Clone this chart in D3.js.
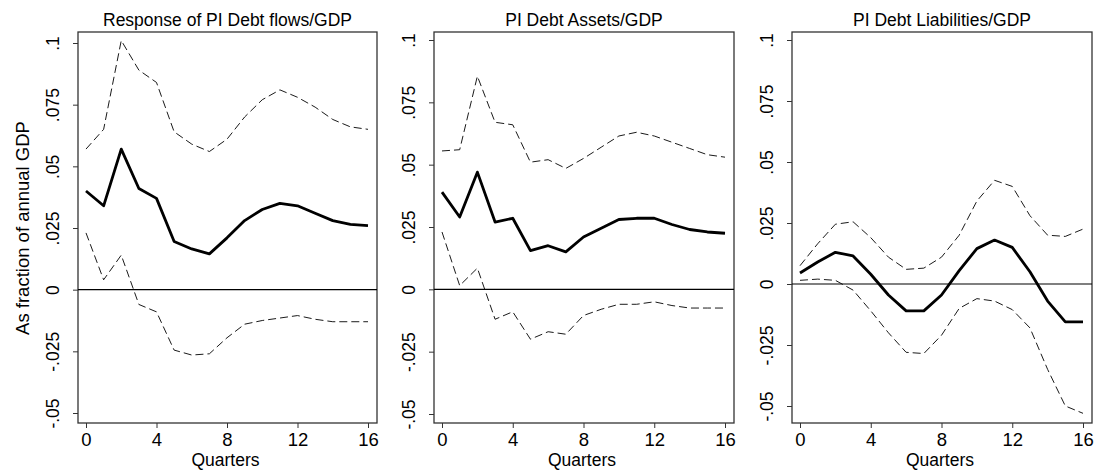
<!DOCTYPE html>
<html><head><meta charset="utf-8">
<script src="https://cdn.jsdelivr.net/npm/d3@7"></script>
<style>body{margin:0;background:#fff}text{font-family:Arial,"Liberation Sans",sans-serif;fill:#000}</style>
</head><body>
<svg id="c" width="1094" height="470"></svg>
<script>
var quarters = d3.range(0, 17);
var titles = ["Response of PI Debt flows/GDP", "PI Debt Assets/GDP", "PI Debt Liabilities/GDP"];
var yTicks = [-0.05, -0.025, 0, 0.025, 0.05, 0.075, 0.1];
var yTickLabels = ["-.05", "-.025", "0", ".025", ".05", ".075", ".1"];
var xTicks = [0, 4, 8, 12, 16];

var flowsMid = [.04,.034,.057,.041,.037,.0195,.0165,.0145,.021,.028,.0325,.035,.034,.031,.028,.0265,.026];
var flowsUp = [.057,.065,.101,.089,.084,.064,.059,.056,.061,.070,.077,.081,.078,.074,.069,.066,.065];
var flowsLo = [.023,.004,.014,-.006,-.009,-.0245,-.0265,-.026,-.0195,-.014,-.0125,-.0115,-.0105,-.012,-.013,-.013,-.013];

var assetsMid = [.039,.029,.047,.027,.0285,.0155,.0175,.015,.021,.0245,.028,.0285,.0285,.026,.024,.023,.0225];
var assetsUp = [.0555,.056,.0855,.067,.066,.051,.052,.0485,.0525,.057,.0615,.063,.0615,.059,.0565,.054,.053];
var assetsLo = [.023,.0015,.0085,-.012,-.009,-.020,-.017,-.018,-.0105,-.008,-.006,-.006,-.005,-.0065,-.0075,-.0075,-.0075];

var liabMid = [.0045,.009,.013,.0115,.004,-.0045,-.011,-.011,-.0045,.0055,.0145,.018,.015,.005,-.007,-.0155,-.0155];
var liabUp = [.0075,.0165,.0245,.0255,.019,.011,.006,.0065,.011,.020,.034,.0425,.040,.028,.020,.0195,.0225];
var liabLo = [.0015,.002,.0015,-.0025,-.011,-.020,-.028,-.0285,-.021,-.010,-.006,-.007,-.0105,-.018,-.035,-.050,-.053];

var panels = [
  {title: titles[0], mid: flowsMid, up: flowsUp, lo: flowsLo, left: 78, right: 377, yTop: 43, yBot: 413},
  {title: titles[1], mid: assetsMid, up: assetsUp, lo: assetsLo, left: 434, right: 734, yTop: 40, yBot: 414},
  {title: titles[2], mid: liabMid, up: liabUp, lo: liabLo, left: 792, right: 1092, yTop: 40, yBot: 406}
];

var svg = d3.select("#c");
var frameTop = 32, frameBot = 423;

panels.forEach(function(p) {
  var x = d3.scaleLinear().domain([0, 16]).range([p.left + 8, p.right - 9]);
  var y = d3.scaleLinear().domain([-0.05, 0.1]).range([p.yBot, p.yTop]);
  var g = svg.append("g");

  g.append("rect").attr("x", p.left).attr("y", frameTop).attr("width", p.right - p.left).attr("height", frameBot - frameTop)
    .attr("fill", "none").attr("stroke", "#333").attr("stroke-width", 1.3);

  g.append("text").attr("x", (p.left + p.right) / 2).attr("y", 26).attr("text-anchor", "middle")
    .style("font-size", "17.5px").text(p.title);

  var ya = g.append("g").attr("transform", "translate(" + p.left + ",0)")
    .call(d3.axisLeft(y).tickValues(yTicks).tickSize(5).tickFormat(function(d, i) { return yTickLabels[i]; }));
  ya.select(".domain").remove();
  ya.selectAll("line").attr("stroke", "#333");
  ya.selectAll("text").attr("transform", "translate(-19,0) rotate(-90)")
    .attr("x", 0).attr("y", 0).attr("dy", 0).attr("text-anchor", "middle").style("font-size", "17.5px");

  var xa = g.append("g").attr("transform", "translate(0," + frameBot + ")")
    .call(d3.axisBottom(x).tickValues(xTicks).tickSize(5));
  xa.select(".domain").remove();
  xa.selectAll("line").attr("stroke", "#333");
  xa.selectAll("text").attr("dy", "0.8em").style("font-size", "18.5px");

  g.append("text").attr("x", (p.left + p.right) / 2 - 2).attr("y", 466).attr("text-anchor", "middle")
    .style("font-size", "17.5px").text("Quarters");

  g.append("line").attr("x1", p.left).attr("x2", p.right).attr("y1", y(0)).attr("y2", y(0))
    .attr("stroke", "#000").attr("stroke-width", 1.2);

  var line = d3.line().x(function(d, i) { return x(quarters[i]); }).y(function(d) { return y(d); });
  [p.up, p.lo].forEach(function(s) {
    g.append("path").attr("d", line(s)).attr("fill", "none").attr("stroke", "#000")
      .attr("stroke-width", 0.9).attr("stroke-dasharray", "8,4");
  });
  g.append("path").attr("d", line(p.mid)).attr("fill", "none").attr("stroke", "#000").attr("stroke-width", 2.8)
    .attr("stroke-linejoin", "round");
});

svg.append("text").attr("transform", "translate(29,228) rotate(-90)").attr("text-anchor", "middle")
  .style("font-size", "18.5px").text("As fraction of annual GDP");
</script>
</body></html>
